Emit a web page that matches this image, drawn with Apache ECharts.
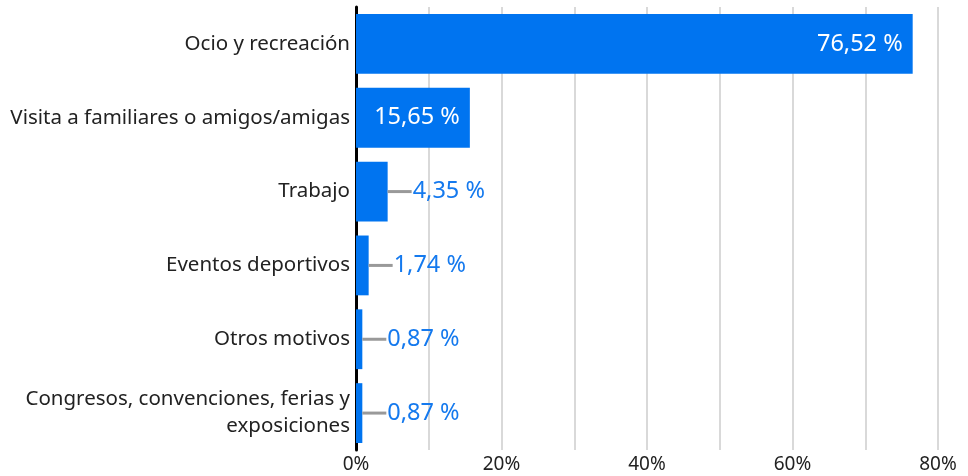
<!DOCTYPE html>
<html>
<head>
<meta charset="utf-8">
<script src="https://cdn.jsdelivr.net/npm/echarts@6/dist/echarts.min.js"></script>
<style>
  html, body { margin: 0; padding: 0; background: #fff; }
  #chart { width: 968px; height: 476px; }
</style>
</head>
<body>
<div id="chart"></div>
<script>
const categories = [
  'Ocio y recreación',
  'Visita a familiares o amigos/amigas',
  'Trabajo',
  'Eventos deportivos',
  'Otros motivos',
  'Congresos, convenciones, ferias y\nexposiciones'
];
const values = [76.52, 15.65, 4.35, 1.74, 0.87, 0.87];
const tickLabels = ['0%', '20%', '40%', '60%', '80%'];

const BLUE = '#0074F0';
const FONT = '"Noto Sans", sans-serif';

const fmt = v => v.toFixed(2).replace('.', ',') + ' %';

const seriesData = values.map(v => {
  if (v > 10) {
    return {
      value: v,
      label: {
        position: 'insideRight',
        distance: 10,
        color: '#fff',
        formatter: fmt(v)
      }
    };
  }
  return {
    value: v,
    label: {
      position: 'right',
      distance: 0,
      formatter: '{line|}{val|' + fmt(v) + '}',
      rich: {
        line: { backgroundColor: '#999999', width: 24, height: 3 },
        val: { color: '#1479EE', fontSize: 23.5, fontFamily: FONT, padding: [0, 0, 0, 1] }
      }
    }
  };
});

const chart = echarts.init(document.getElementById('chart'));
chart.setOption({
  animation: false,
  textStyle: { fontFamily: FONT },
  grid: { left: 356, right: 30, top: 7, bottom: 26, containLabel: false },
  xAxis: {
    type: 'value',
    min: 0,
    max: 80,
    interval: 10,
    axisLine: { show: false },
    axisTick: { show: false },
    splitLine: { lineStyle: { color: '#d9d9d9', width: 2 } },
    axisLabel: {
      color: '#222',
      fontSize: 19,
      fontFamily: FONT,
      margin: 5,
      formatter: v => {
        const s = v + '%';
        return tickLabels.indexOf(s) >= 0 ? s : '';
      }
    }
  },
  yAxis: {
    type: 'category',
    inverse: true,
    data: categories,
    axisLine: { lineStyle: { color: '#000', width: 3 } },
    axisTick: { show: false },
    axisLabel: {
      color: '#222',
      fontSize: 20.5,
      fontFamily: FONT,
      margin: 6,
      lineHeight: 27,
      align: 'right'
    }
  },
  series: [{
    type: 'bar',
    data: seriesData,
    barCategoryGap: '19%',
    itemStyle: { color: BLUE },
    label: {
      show: true,
      fontSize: 23.5,
      fontFamily: FONT
    }
  }]
});
</script>
</body>
</html>
